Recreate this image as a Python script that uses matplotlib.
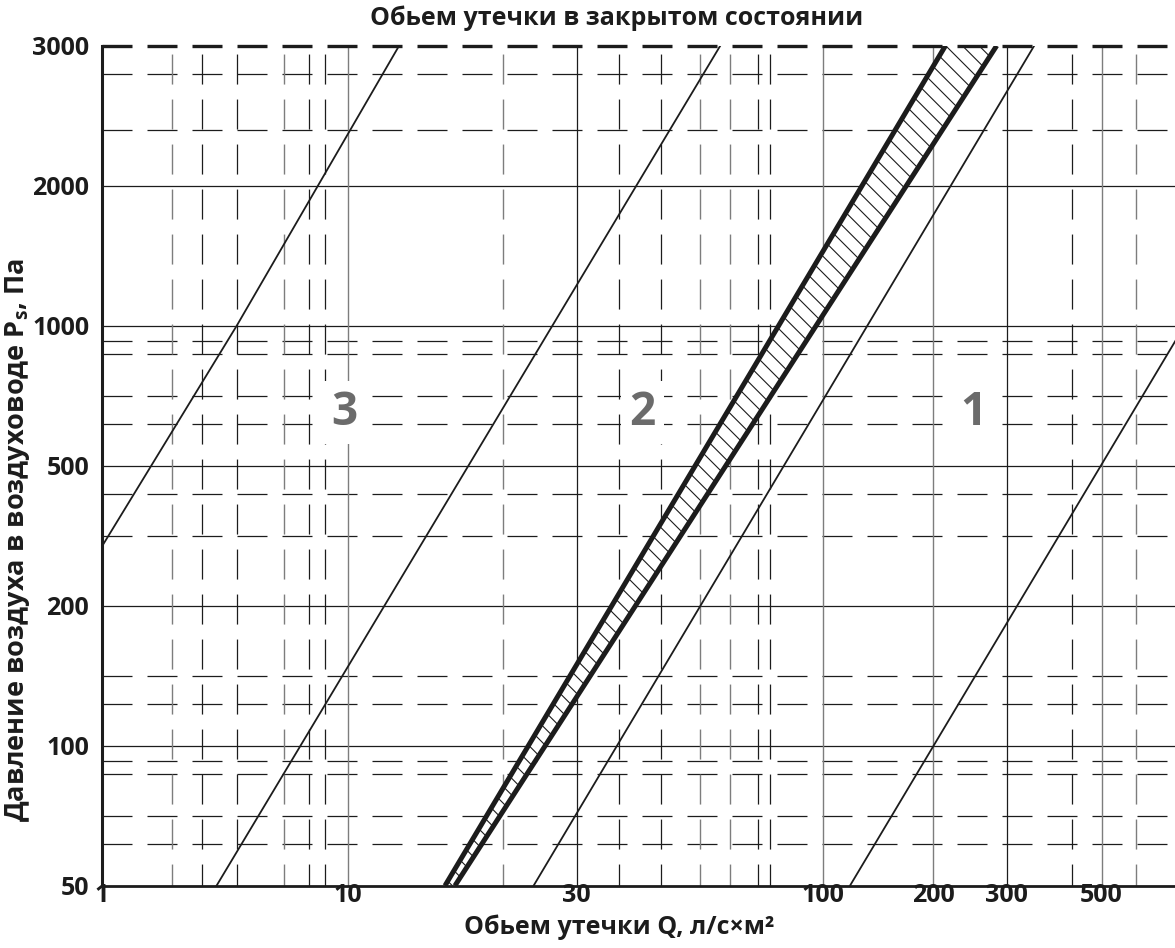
import numpy as np
import matplotlib
matplotlib.use("Agg")
import matplotlib.pyplot as plt

# ---------------- data ----------------
Q_TICKS = [1, 10, 30, 100, 200, 300, 500]
Q_TICK_LABELS = ["1", "10", "30", "100", "200", "300", "500"]
P_TICKS = [50, 100, 200, 500, 1000, 2000, 3000]
P_TICK_LABELS = ["50", "100", "200", "500", "1000", "2000", "3000"]

Q_MAJOR_BLACK = [30, 300]
Q_MAJOR_GRAY = [10, 100, 200, 500]
Q_MINOR_BLACK = [2.56, 3.54, 6.98, 8.11, 36.9, 45.3, 72.9, 77.4, 426]
Q_MINOR_GRAY = [1.93, 5.51, 21.1, 54.8, 63.6, 601]
P_MAJOR = [100, 200, 500, 1000, 2000]
P_MINOR = [61.5, 70.6, 87.0, 92.7, 123, 141, 316, 416, 615, 706, 870, 927, 2352, 2766]

LINE3_Q = [1, 3.54, 12.8]
LINE3_P = [294, 1000, 3000]
LINE2_Q = [2.93, 60.6]
LINE2_P = [50, 3000]
BAND_LEFT_Q = [15.95, 214]
BAND_RIGHT_Q = [16.73, 284]
BAND_P = [50, 3000]
LINE1A_Q = [24.4, 348]
LINE1A_P = [50, 3000]
LINE1B_Q = [118.7, 750]
LINE1B_P = [50, 940]

CLASS_LABELS = ["3", "2", "1"]
CLASS_Q = [9.66, 41.4, 250]
CLASS_P = [612, 612, 612]

TITLE = "Обьем утечки в закрытом состоянии"
XLABEL = "Обьем утечки Q, л/с×м²"
YLABEL = "Давление воздуха в воздуховоде P$_\\mathrm{s}$, Па"

# ---------------- axis definition (non-uniform nomogram scales) ----------------
X_KNOT_POS = [101.7, 347.7, 576.7, 822.7, 933.3, 1006.7, 1101.7]
Y_KNOT_POS = [0, 1, 2, 3, 4, 5, 6]


def make_scale(vals, pos):
    lv = np.log10(np.asarray(vals, float))
    p = np.asarray(pos, float)
    s0 = (p[1] - p[0]) / (lv[1] - lv[0])
    s1 = (p[-1] - p[-2]) / (lv[-1] - lv[-2])

    def fwd(v):
        v = np.asarray(v, float)
        with np.errstate(all="ignore"):
            l = np.log10(np.clip(v, 1e-12, None))
        out = np.interp(l, lv, p)
        out = np.where(l < lv[0], p[0] + (l - lv[0]) * s0, out)
        out = np.where(l > lv[-1], p[-1] + (l - lv[-1]) * s1, out)
        return out

    def inv(q):
        q = np.asarray(q, float)
        l = np.interp(q, p, lv)
        l = np.where(q < p[0], lv[0] + (q - p[0]) / s0, l)
        l = np.where(q > p[-1], lv[-1] + (q - p[-1]) / s1, l)
        return 10 ** l

    return fwd, inv


plt.rcParams["font.family"] = ["Open Sans", "DejaVu Sans"]
plt.rcParams["font.weight"] = "bold"
plt.rcParams["mathtext.fontset"] = "custom"
plt.rcParams["mathtext.rm"] = "Open Sans:bold"
plt.rcParams["mathtext.it"] = "Open Sans:bold"
plt.rcParams["mathtext.bf"] = "Open Sans:bold"
plt.rcParams["lines.scale_dashes"] = False
plt.rcParams["hatch.linewidth"] = 0.8

BLACK = "#1c1c1c"
GRAY = "#7d7d7d"
DASH = (21.6, 10.8)

W, H = 1175, 948
fig = plt.figure(figsize=(W / 100, H / 100), dpi=100)
ax = fig.add_axes([101.7 / W, (H - 885.7) / H, 1 - 101.7 / W, (885.7 - 45.7) / H])

fx, ifx = make_scale(Q_TICKS, X_KNOT_POS)
fy, ify = make_scale(P_TICKS, Y_KNOT_POS)
ax.set_xscale("function", functions=(fx, ifx))
ax.set_yscale("function", functions=(fy, ify))
ax.set_xlim(1, 742)
ax.set_ylim(50, 3000)

# grid
for v in P_MAJOR:
    ax.axhline(v, color=BLACK, lw=0.9, zorder=1)
for v in P_MINOR:
    ax.axhline(v, color=BLACK, lw=0.9, linestyle=(0, DASH), zorder=1)
for v in Q_MAJOR_BLACK:
    ax.axvline(v, color=BLACK, lw=0.9, zorder=1)
for v in Q_MAJOR_GRAY:
    ax.axvline(v, color=GRAY, lw=1.0, zorder=1)
for v in Q_MINOR_BLACK:
    ax.axvline(v, color=BLACK, lw=0.9, linestyle=(5.8, DASH), zorder=1)
for v in Q_MINOR_GRAY:
    ax.axvline(v, color=GRAY, lw=1.0, linestyle=(5.8, DASH), zorder=1)

# top border: thick dashed at 3000
ax.axhline(3000, color=BLACK, lw=2.4, linestyle=(0, DASH), clip_on=False, zorder=5)

# class labels with white boxes
for s, q, p in zip(CLASS_LABELS, CLASS_Q, CLASS_P):
    ax.text(q, p, s, fontsize=33, color="#6b6b6b", ha="center", va="baseline",
            fontweight="bold", zorder=2.5,
            bbox=dict(facecolor="white", edgecolor="none", pad=6))

# leakage lines
ax.plot(LINE3_Q, LINE3_P, color=BLACK, lw=1.3, zorder=3)
ax.plot(LINE2_Q, LINE2_P, color=BLACK, lw=1.3, zorder=3)
ax.plot(LINE1A_Q, LINE1A_P, color=BLACK, lw=1.3, zorder=3)
ax.plot(LINE1B_Q, LINE1B_P, color=BLACK, lw=1.3, zorder=3)

# hatched band
ax.fill(BAND_LEFT_Q + BAND_RIGHT_Q[::-1], BAND_P + BAND_P[::-1],
        facecolor="white", edgecolor=BLACK, lw=0, hatch="\\\\", zorder=2.8)
ax.plot(BAND_LEFT_Q, BAND_P, color=BLACK, lw=3.6, zorder=3.5, solid_capstyle="butt")
ax.plot(BAND_RIGHT_Q, BAND_P, color=BLACK, lw=3.6, zorder=3.5, solid_capstyle="butt")

# spines
for side in ("top", "right"):
    ax.spines[side].set_visible(False)
ax.spines["left"].set_linewidth(2.2)
ax.spines["bottom"].set_linewidth(2.0)
ax.spines["left"].set_color(BLACK)
ax.spines["bottom"].set_color(BLACK)
ax.spines["left"].set_zorder(6)
ax.spines["bottom"].set_zorder(6)

ax.set_xticks(Q_TICKS, labels=Q_TICK_LABELS)
ax.set_yticks(P_TICKS, labels=P_TICK_LABELS)
ax.set_xticks([], minor=True)
ax.set_yticks([], minor=True)
ax.tick_params(axis="both", length=0, labelsize=18, colors=BLACK)
ax.tick_params(axis="x", pad=-2)
ax.tick_params(axis="y", pad=9)
for lab in ax.get_xticklabels() + ax.get_yticklabels():
    lab.set_fontweight("bold")

fig.text(617 / W, 1 - 18 / H, TITLE, ha="center", va="center", fontsize=18,
         fontweight="bold", color=BLACK)
fig.text(619 / W, 1 - 927 / H, XLABEL, ha="center", va="center", fontsize=18,
         fontweight="bold", color=BLACK)
fig.text(18 / W, 1 - 540 / H, YLABEL, ha="center", va="center", fontsize=19.5,
         fontweight="bold", color=BLACK, rotation=90)

fig.savefig("out.png", dpi=100, facecolor="white")
